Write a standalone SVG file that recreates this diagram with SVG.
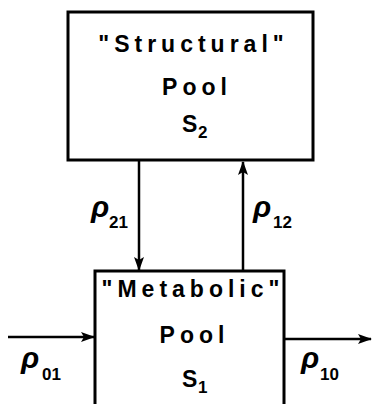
<svg xmlns="http://www.w3.org/2000/svg" width="372" height="404" viewBox="0 0 372 404">
  <defs>
    <marker id="head" viewBox="0 0 14 10" refX="13" refY="5" markerWidth="14" markerHeight="10" markerUnits="userSpaceOnUse" orient="auto">
      <path d="M0,0 L14,5 L0,10 L3,5 Z" fill="#000"/>
    </marker>
  </defs>
  <style>
    .box { fill: #fff; stroke: #000; stroke-width: 3; }
    .title { font-family: "Liberation Sans", Arial, sans-serif; font-weight: bold; font-size: 23px; letter-spacing: 5px; text-anchor: middle; fill: #000; }
    .sym { font-family: "Liberation Sans", Arial, sans-serif; font-weight: bold; font-size: 23px; fill: #000; }
    .sub { font-family: "Liberation Sans", Arial, sans-serif; font-weight: bold; font-size: 17px; fill: #000; }
    .rho { font-family: "Liberation Sans", Arial, sans-serif; font-weight: bold; font-style: italic; font-size: 30px; fill: #000; }
    .flow { stroke: #000; stroke-width: 2.5; fill: none; marker-end: url(#head); }
  </style>

  <!-- connectors -->
  <g id="connectors">
    <line class="flow" x1="139" y1="160" x2="139" y2="270"/>
    <line class="flow" x1="243" y1="271" x2="243" y2="162"/>
    <line class="flow" x1="8" y1="337" x2="94" y2="337"/>
    <line class="flow" x1="284" y1="339" x2="371" y2="339"/>
    <g id="label-21"><text class="rho" x="91" y="217">ρ</text><text class="sub" x="109" y="228">21</text></g>
    <g id="label-12"><text class="rho" x="253" y="217">ρ</text><text class="sub" x="273" y="228">12</text></g>
    <g id="label-01"><text class="rho" x="21" y="368">ρ</text><text class="sub" x="42" y="380">01</text></g>
    <g id="label-10"><text class="rho" x="301" y="368">ρ</text><text class="sub" x="320" y="380">10</text></g>
  </g>

  <!-- structural pool -->
  <g id="structural-pool">
    <rect class="box" x="68" y="12" width="245" height="148"/>
    <text class="title" x="193.5" y="52">"Structural"</text>
    <text class="title" x="197" y="95">Pool</text>
    <text class="sym" x="182" y="132">S</text>
    <text class="sub" x="198" y="138">2</text>
  </g>

  <!-- metabolic pool -->
  <g id="metabolic-pool">
    <rect class="box" x="95" y="271" width="189" height="150"/>
    <text class="title" x="193" y="297">"Metabolic"</text>
    <text class="title" x="194.5" y="343">Pool</text>
    <text class="sym" x="182" y="387">S</text>
    <text class="sub" x="198" y="393">1</text>
  </g>
</svg>
